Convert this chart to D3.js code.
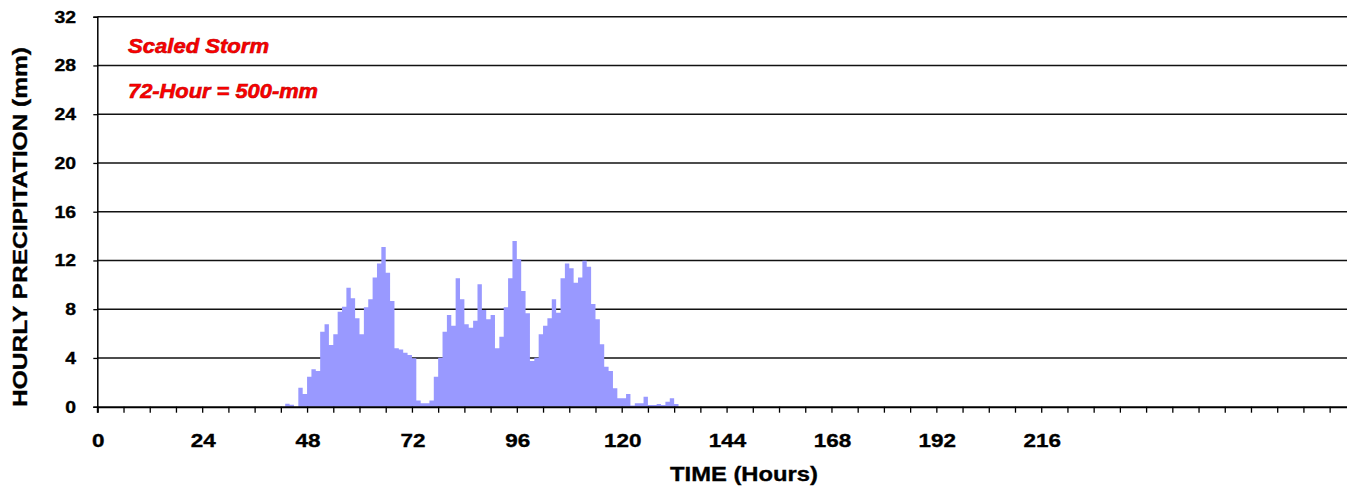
<!DOCTYPE html>
<html>
<head>
<meta charset="utf-8">
<script src="https://cdn.jsdelivr.net/npm/d3@7"></script>
<style>
  body { margin: 0; background: #fff; }
  svg { display: block; font-family: "Liberation Sans", Arial, sans-serif; }
  .grid line { stroke: #111; stroke-width: 1.5; }
  .bars { fill: #9999ff; stroke: none; }
  .tickText { font-weight: bold; fill: #000; stroke: #000; stroke-width: 0.35; }
  .note { font-weight: bold; font-style: italic; fill: #ff0000; stroke: #c00000; stroke-width: 0.6; }
</style>
</head>
<body>
<div id="chart"></div>
<script>
// hour at the start of each bar
let hours = [43, 44, 45, 46, 47, 48, 49, 50, 51, 52, 53, 54, 55, 56, 57, 58, 59, 60,
  61, 62, 63, 64, 65, 66, 67, 68, 69, 70, 71, 72, 73, 74, 75, 76, 77, 78, 79, 80,
  81, 82, 83, 84, 85, 86, 87, 88, 89, 90, 91, 92, 93, 94, 95, 96, 97, 98, 99, 100,
  101, 102, 103, 104, 105, 106, 107, 108, 109, 110, 111, 112, 113, 114, 115, 116,
  117, 118, 119, 120, 121, 122, 123, 124, 125, 126, 127, 128, 129, 130, 131, 132];

// hourly precipitation (mm)
let precip = [0.25, 0.15, 0, 1.56, 1.04, 2.46, 3.07, 2.93, 6.15, 6.76, 5.06, 5.94,
  7.8, 8.2, 9.76, 8.89, 7.25, 5.94, 8.15, 8.81, 10.6, 11.76, 13.1, 11.0, 8.67,
  4.79, 4.7, 4.43, 4.24, 3.97, 0.5, 0.28, 0.28, 0.5, 2.46, 4.02, 6.15, 7.52, 6.65,
  10.53, 8.81, 6.76, 6.48, 7.05, 10.04, 7.93, 7.17, 7.52, 4.79, 5.74, 8.15, 10.53,
  13.59, 12.09, 9.49, 7.66, 3.75, 4.02, 5.94, 6.65, 7.25, 8.81, 7.71, 10.53, 11.76,
  11.35, 10.17, 10.61, 11.98, 11.49, 8.42, 7.17, 5.12, 3.28, 2.93, 1.51, 0.69, 0.69,
  1.04, 0.1, 0.28, 0.28, 0.82, 0.14, 0.14, 0.22, 0.14, 0.41, 0.69, 0.22];

let xMinorTicks = [0, 6, 12, 18, 24, 30, 36, 42, 48, 54, 60, 66, 72, 78, 84, 90, 96,
  102, 108, 114, 120, 126, 132, 138, 144, 150, 156, 162, 168, 174, 180, 186, 192,
  198, 204, 210, 216, 222, 228, 234, 240, 246, 252, 258, 264, 270, 276, 282, 288];
let xLabels = [0, 24, 48, 72, 96, 120, 144, 168, 192, 216];
let yTicks = [0, 4, 8, 12, 16, 20, 24, 28, 32];
let notes = ["Scaled Storm", "72-Hour = 500-mm"];

const width = 1347, height = 486;
const svg = d3.select("#chart").append("svg")
  .attr("width", width)
  .attr("height", height);

const x = d3.scaleLinear().domain([0, 288]).range([97.3, 97.3 + 288 * 4.37]);
const y = d3.scaleLinear().domain([0, 32]).range([406.7, 16.7]);

//----------------------------------------
// Gridlines
//----------------------------------------
svg.append("g").attr("class", "grid")
  .selectAll("line")
  .data(yTicks.filter(d => d > 0))
  .enter()
  .append("line")
  .attr("x1", x(0))
  .attr("x2", x(288))
  .attr("y1", d => y(d))
  .attr("y2", d => y(d));

//----------------------------------------
// Bars: hourly columns with no gap, drawn as one stepped shape
// so that no hairline seams show between neighbours
//----------------------------------------
let steps = hours.map((h, i) => ({ h: h, v: precip[i] }));
steps.push({ h: hours[hours.length - 1] + 1, v: precip[precip.length - 1] });

const area = d3.area()
  .curve(d3.curveStepAfter)
  .x(d => x(d.h))
  .y0(y(0))
  .y1(d => y(d.v));

svg.append("path")
  .datum(steps)
  .attr("class", "bars")
  .attr("d", area);

//----------------------------------------
// Axes
//----------------------------------------
const xAxis = d3.axisBottom(x)
  .tickValues(xMinorTicks)
  .tickSize(6)
  .tickFormat("");
svg.append("g")
  .attr("transform", `translate(0,${y(0)})`)
  .call(xAxis)
  .call(g => g.select(".domain").attr("stroke", "#000").attr("stroke-width", 2))
  .call(g => g.selectAll(".tick line").attr("stroke", "#000").attr("stroke-width", 1.3));

const yAxis = d3.axisLeft(y)
  .tickValues(yTicks)
  .tickSize(4)
  .tickFormat("");
svg.append("g")
  .attr("transform", `translate(${x(0)},0)`)
  .call(yAxis)
  .call(g => g.select(".domain").attr("stroke", "#000").attr("stroke-width", 1.5))
  .call(g => g.selectAll(".tick line").attr("stroke", "#000").attr("stroke-width", 1.3));

//----------------------------------------
// Tick labels (stretched like the source)
//----------------------------------------
svg.append("g")
  .selectAll("text")
  .data(xLabels)
  .enter()
  .append("text")
  .attr("class", "tickText")
  .attr("x", d => x(d) + 1)
  .attr("y", 447)
  .attr("text-anchor", "middle")
  .attr("font-size", 19)
  .attr("textLength", d => String(d).length * 12.5)
  .attr("lengthAdjust", "spacingAndGlyphs")
  .text(d => d);

svg.append("g")
  .selectAll("text")
  .data(yTicks)
  .enter()
  .append("text")
  .attr("class", "tickText")
  .attr("x", 76)
  .attr("y", d => y(d) + 6)
  .attr("text-anchor", "end")
  .attr("font-size", 17)
  .attr("textLength", d => String(d).length * 10.8)
  .attr("lengthAdjust", "spacingAndGlyphs")
  .text(d => d);

//----------------------------------------
// Axis titles
//----------------------------------------
svg.append("text")
  .attr("class", "tickText")
  .attr("x", 744)
  .attr("y", 481)
  .attr("text-anchor", "middle")
  .attr("font-size", 21)
  .attr("textLength", 148)
  .attr("lengthAdjust", "spacingAndGlyphs")
  .text("TIME (Hours)");

svg.append("text")
  .attr("class", "tickText")
  .attr("transform", "translate(27,227) rotate(-90)")
  .attr("text-anchor", "middle")
  .attr("font-size", 21)
  .attr("textLength", 360)
  .attr("lengthAdjust", "spacingAndGlyphs")
  .text("HOURLY PRECIPITATION (mm)");

//----------------------------------------
// Notes in red
//----------------------------------------
svg.append("g")
  .selectAll("text")
  .data(notes)
  .enter()
  .append("text")
  .attr("class", "note")
  .attr("x", 128)
  .attr("y", (d, i) => 53 + i * 44.5)
  .attr("font-size", 21)
  .attr("textLength", (d, i) => i == 0 ? 141 : 190)
  .attr("lengthAdjust", "spacingAndGlyphs")
  .text(d => d);
</script>
</body>
</html>
